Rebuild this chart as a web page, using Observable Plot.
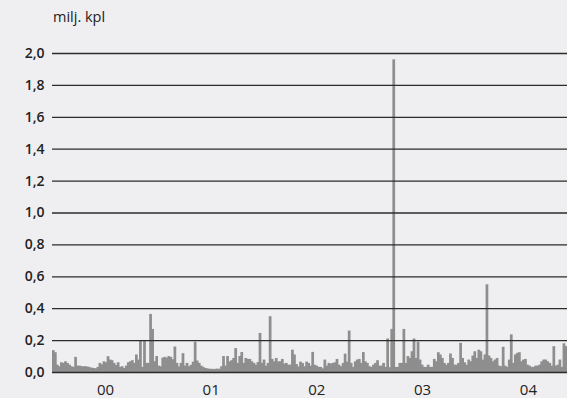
<!DOCTYPE html>
<html>
<head>
<meta charset="utf-8">
<script src="https://cdn.jsdelivr.net/npm/d3@7"></script>
<script src="https://cdn.jsdelivr.net/npm/@observablehq/plot@0.6"></script>
<style>
  html, body { margin: 0; padding: 0; background: #efeff1; }
  #wrap { position: relative; width: 567px; height: 398px; font-family: "Open Sans", "Liberation Sans", sans-serif; }
  #title { position: absolute; left: 53px; top: 7px; font-size: 14.5px; color: #222; }
  #chart { position: absolute; left: 0; top: 0; }
</style>
</head>
<body>
<div id="wrap">
  <div id="chart"></div>
  <div id="title">milj. kpl</div>
</div>
<script>
// Weekly values (million pcs), first week starting 2000-01-02
const startDate = "2000-01-02";
const weeklyValues = [
  0.137, 0.124, 0.046, 0.036, 0.061, 0.057, 0.067, 0.057, 0.046, 0.036,
  0.032, 0.095, 0.040, 0.040, 0.036, 0.036, 0.036, 0.034, 0.030, 0.027,
  0.025, 0.023, 0.032, 0.057, 0.048, 0.067, 0.061, 0.099, 0.078, 0.074,
  0.057, 0.044, 0.061, 0.032, 0.036, 0.025, 0.040, 0.061, 0.067, 0.074,
  0.057, 0.110, 0.078, 0.200, 0.032, 0.200, 0.057, 0.057, 0.364, 0.270,
  0.067, 0.100, 0.040, 0.036, 0.090, 0.095, 0.090, 0.100, 0.095, 0.080,
  0.160, 0.057, 0.035, 0.057, 0.118, 0.040, 0.057, 0.036, 0.045, 0.065,
  0.190, 0.072, 0.057, 0.040, 0.032, 0.025, 0.023, 0.020, 0.020, 0.019,
  0.020, 0.021, 0.020, 0.036, 0.100, 0.040, 0.100, 0.067, 0.074, 0.088,
  0.150, 0.057, 0.100, 0.125, 0.057, 0.088, 0.082, 0.082, 0.067, 0.057,
  0.046, 0.063, 0.245, 0.057, 0.078, 0.040, 0.057, 0.350, 0.082, 0.067,
  0.088, 0.067, 0.067, 0.082, 0.053, 0.057, 0.046, 0.046, 0.140, 0.110,
  0.050, 0.035, 0.065, 0.057, 0.036, 0.065, 0.057, 0.040, 0.126, 0.046,
  0.040, 0.032, 0.032, 0.023, 0.078, 0.040, 0.057, 0.053, 0.057, 0.061,
  0.082, 0.046, 0.036, 0.057, 0.115, 0.065, 0.260, 0.057, 0.032, 0.067,
  0.078, 0.082, 0.057, 0.125, 0.067, 0.057, 0.036, 0.032, 0.046, 0.057,
  0.074, 0.040, 0.040, 0.057, 0.032, 0.210, 0.030, 0.270, 1.960, 0.032,
  0.032, 0.057, 0.057, 0.270, 0.057, 0.100, 0.088, 0.130, 0.210, 0.088,
  0.190, 0.078, 0.046, 0.032, 0.032, 0.046, 0.032, 0.032, 0.082, 0.067,
  0.124, 0.110, 0.088, 0.057, 0.046, 0.057, 0.116, 0.088, 0.046, 0.046,
  0.057, 0.183, 0.088, 0.061, 0.046, 0.078, 0.067, 0.103, 0.130, 0.088,
  0.140, 0.130, 0.078, 0.110, 0.550, 0.103, 0.088, 0.067, 0.078, 0.088,
  0.040, 0.036, 0.158, 0.040, 0.032, 0.078, 0.236, 0.057, 0.110, 0.120,
  0.124, 0.067, 0.078, 0.082, 0.046, 0.040, 0.032, 0.032, 0.040, 0.040,
  0.046, 0.067, 0.078, 0.078, 0.067, 0.057, 0.040, 0.162, 0.040, 0.046,
  0.078, 0.032, 0.180, 0.162
];
const years = [2000, 2001, 2002, 2003, 2004];
const yearLabels = ["00", "01", "02", "03", "04"];
const yTicks = [0, 0.2, 0.4, 0.6, 0.8, 1.0, 1.2, 1.4, 1.6, 1.8, 2.0];
const xDomain = ["2000-01-01", "2004-11-14"];

const start = new Date(startDate);
const data = weeklyValues.map((v, i) => ({
  start: d3.utcDay.offset(start, 7 * i),
  end: d3.utcDay.offset(start, 7 * (i + 1)),
  value: v
}));
const yearMid = years.map(y => new Date(Date.UTC(y, 6, 2)));

const chart = Plot.plot({
  width: 567,
  height: 398,
  marginLeft: 52,
  marginRight: 0,
  marginTop: 53,
  marginBottom: 26,
  style: { background: "transparent", fontFamily: "'Open Sans', 'Liberation Sans', sans-serif", color: "#222" },
  x: { type: "utc", domain: xDomain.map(d => new Date(d)) },
  y: { domain: [0, 2] },
  marks: [
    Plot.rectY(data, { x1: "start", x2: "end", y: "value", fill: "#8e8e8e", insetLeft: -0.35, insetRight: -0.35, clip: true }),
    Plot.ruleY(yTicks, { stroke: "#2b2b2b", strokeWidth: 1.3 }),
    Plot.axisX({
      ticks: yearMid,
      tickSize: 0,
      tickPadding: 12,
      fontSize: 15,
      tickFormat: d => yearLabels[years.indexOf(d.getUTCFullYear())],
      label: null
    }),
    Plot.axisY({
      ticks: yTicks,
      tickSize: 0,
      tickPadding: 8,
      fontSize: 14,
      fontWeight: 600,
      tickFormat: d => d.toFixed(1).replace(".", ","),
      label: null
    })
  ]
});
document.getElementById("chart").appendChild(chart);
</script>
</body>
</html>
